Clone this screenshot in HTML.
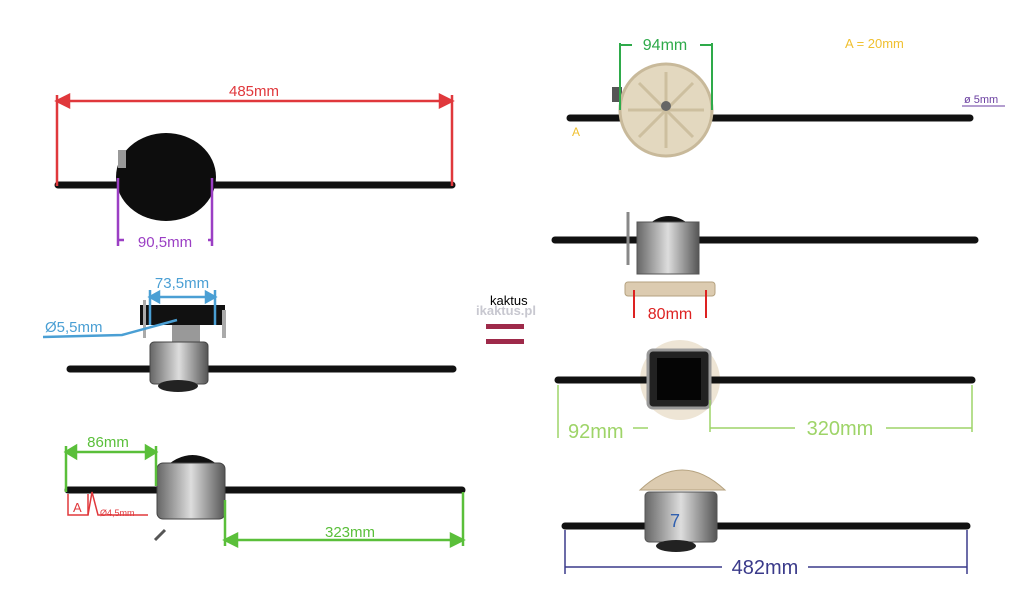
<!DOCTYPE html>
<html><head><style>html,body{margin:0;padding:0;background:#fff;width:1024px;height:601px;overflow:hidden}svg{display:block}text{font-family:"Liberation Sans",sans-serif}</style></head><body>
<svg width="1024" height="601" viewBox="0 0 1024 601" xmlns="http://www.w3.org/2000/svg">
<defs>
<linearGradient id="m" x1="0" x2="1"><stop offset="0" stop-color="#666"/><stop offset=".5" stop-color="#ddd"/><stop offset="1" stop-color="#555"/></linearGradient>
</defs>
<!-- TOP LEFT -->
<line x1="58" y1="185" x2="452" y2="185" stroke="#111" stroke-width="7" stroke-linecap="round"/>
<ellipse cx="166" cy="177" rx="50" ry="44" fill="#0d0d0d"/>
<rect x="118" y="150" width="8" height="18" fill="#999"/>
<g stroke="#e0383c" stroke-width="2.5" fill="#e0383c"><line x1="57" y1="101" x2="452" y2="101"/><line x1="57" y1="95" x2="57" y2="186"/><line x1="452" y1="95" x2="452" y2="186"/><path d="M57 101l12-6v12z M452 101l-12-6v12z"/></g>
<text x="254" y="96" font-size="15" fill="#e0383c" text-anchor="middle">485mm</text>
<g stroke="#9b3fc4" stroke-width="2.5" fill="#9b3fc4"><line x1="118" y1="178" x2="118" y2="246"/><line x1="212" y1="178" x2="212" y2="246"/><line x1="118" y1="240" x2="212" y2="240"/></g>
<rect x="124" y="233" width="84" height="16" fill="#fff"/>
<text x="165" y="247" font-size="15" fill="#9b3fc4" text-anchor="middle">90,5mm</text>
<!-- MID LEFT -->
<rect x="140" y="305" width="85" height="20" fill="#111"/>
<rect x="143" y="300" width="3" height="38" fill="#aaa"/><rect x="222" y="310" width="4" height="28" fill="#aaa"/>
<rect x="172" y="325" width="28" height="20" fill="#999"/>
<line x1="70" y1="369" x2="453" y2="369" stroke="#111" stroke-width="7" stroke-linecap="round"/>
<rect x="150" y="342" width="58" height="42" rx="4" fill="url(#m)" stroke="#444"/>
<ellipse cx="178" cy="386" rx="20" ry="6" fill="#222"/>
<g stroke="#4a9fd4" stroke-width="2.5" fill="#4a9fd4"><line x1="150" y1="297" x2="215" y2="297"/><line x1="150" y1="290" x2="150" y2="325"/><line x1="215" y1="290" x2="215" y2="325"/><path d="M150 297l9-5v10z M215 297l-9-5v10z"/><polyline points="43,337 122,335 177,320" fill="none"/></g>
<text x="182" y="288" font-size="15" fill="#4a9fd4" text-anchor="middle">73,5mm</text>
<text x="45" y="332" font-size="15" fill="#4a9fd4">Ø5,5mm</text>
<!-- BOTTOM LEFT -->
<line x1="68" y1="490" x2="462" y2="490" stroke="#111" stroke-width="7" stroke-linecap="round"/>
<path d="M162 470q30-30 62 0z" fill="#111"/>
<rect x="157" y="463" width="68" height="56" rx="6" fill="url(#m)" stroke="#444"/>
<line x1="155" y1="540" x2="165" y2="530" stroke="#555" stroke-width="3"/>
<g stroke="#5abf3a" stroke-width="2.5" fill="#5abf3a"><line x1="66" y1="452" x2="156" y2="452"/><line x1="66" y1="446" x2="66" y2="492"/><line x1="156" y1="446" x2="156" y2="486"/><path d="M66 452l10-6v12z M156 452l-10-6v12z"/><line x1="225" y1="540" x2="463" y2="540"/><line x1="225" y1="500" x2="225" y2="546"/><line x1="463" y1="492" x2="463" y2="546"/><path d="M225 540l12-6v12z M463 540l-12-6v12z"/></g>
<text x="108" y="447" font-size="15" fill="#5abf3a" text-anchor="middle">86mm</text>
<text x="350" y="537" font-size="15" fill="#5abf3a" text-anchor="middle">323mm</text>
<g stroke="#e0383c" stroke-width="1.5" fill="none"><polyline points="68,494 68,515 88,515 88,494"/><polyline points="88,515 92,492 98,515 148,515"/></g>
<text x="73" y="512" font-size="13" fill="#e0383c">A</text>
<text x="100" y="516" font-size="9" fill="#e0383c">Ø4,5mm</text>
<!-- CENTER -->
<text x="490" y="305" font-size="13" fill="#000">kaktus</text>
<text x="476" y="315" font-size="13" font-weight="bold" fill="#c8c8d0">ikaktus.pl</text>
<rect x="486" y="324" width="38" height="5" fill="#9e2a4a"/><rect x="486" y="339" width="38" height="5" fill="#9e2a4a"/>
<!-- RIGHT 1 -->
<line x1="570" y1="118" x2="970" y2="118" stroke="#111" stroke-width="7" stroke-linecap="round"/>
<rect x="612" y="87" width="10" height="15" fill="#555"/>
<circle cx="666" cy="110" r="46" fill="#e3d8bf" stroke="#c8b99a" stroke-width="3"/>
<g stroke="#cdbf9f" stroke-width="3"><line x1="666" y1="72" x2="666" y2="148"/><line x1="628" y1="110" x2="704" y2="110"/><line x1="639" y1="83" x2="693" y2="137"/><line x1="693" y1="83" x2="639" y2="137"/></g>
<circle cx="666" cy="106" r="5" fill="#666"/>
<g stroke="#2eaa4a" stroke-width="2" fill="#2eaa4a"><line x1="620" y1="43" x2="620" y2="110"/><line x1="712" y1="43" x2="712" y2="110"/><line x1="620" y1="45" x2="632" y2="45"/><line x1="700" y1="45" x2="712" y2="45"/></g>
<text x="665" y="50" font-size="16" fill="#2eaa4a" text-anchor="middle">94mm</text>
<text x="845" y="48" font-size="13" fill="#f0c030">A = 20mm</text>
<text x="964" y="103" font-size="11" fill="#6a3ea0">ø 5mm</text>
<line x1="962" y1="106" x2="1005" y2="106" stroke="#6a3ea0"/>
<text x="572" y="136" font-size="12" fill="#f0c030">A</text>
<!-- RIGHT 2 -->
<line x1="555" y1="240" x2="975" y2="240" stroke="#111" stroke-width="7" stroke-linecap="round"/>
<path d="M648 225q20-18 42 0z" fill="#111"/>
<rect x="637" y="222" width="62" height="52" fill="url(#m)" stroke="#555"/>
<rect x="625" y="282" width="90" height="14" rx="3" fill="#dccbb0" stroke="#b5a27f"/>
<line x1="628" y1="212" x2="628" y2="265" stroke="#888" stroke-width="3"/>
<g stroke="#d22" stroke-width="2"><line x1="634" y1="290" x2="634" y2="318"/><line x1="706" y1="290" x2="706" y2="318"/></g>
<text x="670" y="319" font-size="16" fill="#d22" text-anchor="middle">80mm</text>
<!-- RIGHT 3 -->
<circle cx="680" cy="380" r="40" fill="#eee5d5"/>
<line x1="558" y1="380" x2="972" y2="380" stroke="#111" stroke-width="7" stroke-linecap="round"/>
<rect x="648" y="350" width="62" height="58" rx="5" fill="#222" stroke="#999" stroke-width="3"/>
<rect x="657" y="358" width="44" height="42" fill="#050505"/>
<g stroke="#9ed468" stroke-width="1.5"><line x1="558" y1="385" x2="558" y2="438"/><line x1="972" y1="385" x2="972" y2="432"/><line x1="710" y1="400" x2="710" y2="432"/><line x1="710" y1="428" x2="795" y2="428"/><line x1="886" y1="428" x2="972" y2="428"/><line x1="633" y1="428" x2="648" y2="428"/></g>
<text x="568" y="438" font-size="20" fill="#9ed468">92mm</text>
<text x="840" y="435" font-size="20" fill="#9ed468" text-anchor="middle">320mm</text>
<!-- RIGHT 4 -->
<path d="M640 490q42-40 85 0z" fill="#dccbb0" stroke="#b5a27f"/>
<line x1="565" y1="526" x2="967" y2="526" stroke="#111" stroke-width="7" stroke-linecap="round"/>
<rect x="645" y="492" width="72" height="50" rx="4" fill="url(#m)" stroke="#555"/>
<ellipse cx="676" cy="546" rx="20" ry="6" fill="#222"/>
<text x="670" y="527" font-size="18" fill="#3060b0">7</text>
<g stroke="#3a3a8a" stroke-width="1.5"><line x1="565" y1="530" x2="565" y2="574"/><line x1="967" y1="530" x2="967" y2="574"/><line x1="565" y1="567" x2="722" y2="567"/><line x1="808" y1="567" x2="967" y2="567"/></g>
<text x="765" y="574" font-size="20" fill="#3a3a8a" text-anchor="middle">482mm</text>
</svg>
</body></html>
